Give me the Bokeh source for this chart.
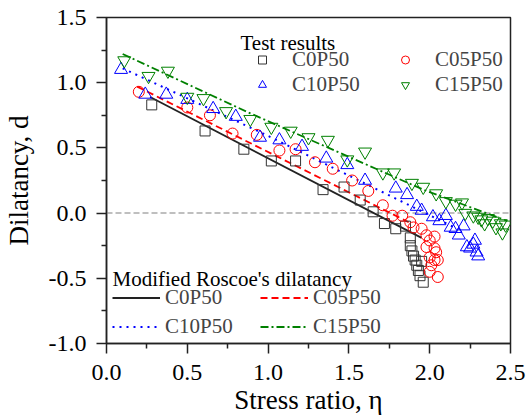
import math
from bokeh.plotting import figure
from bokeh.models import (Legend, LegendItem, Span, Label, FixedTicker, Range1d,
                          PrintfTickFormatter)
from bokeh.embed import file_html
from bokeh.resources import INLINE

FONT = "Liberation Serif"

# ---- test results (stress ratio eta, dilatancy d) ----
c0_x = [0.28, 0.61, 0.85, 1.02, 1.17, 1.34, 1.47, 1.57, 1.65, 1.72, 1.79, 1.85, 1.88, 1.88, 1.89,
        1.90, 1.91, 1.92, 1.93, 1.94, 1.95, 1.96]
c0_y = [0.83, 0.63, 0.49, 0.40, 0.40, 0.18, 0.20, 0.10, 0.01, -0.08, -0.12, -0.10, -0.19, -0.25, -0.29,
        -0.33, -0.36, -0.40, -0.44, -0.48, -0.37, -0.53]

c05_x = [0.20, 0.50, 0.64, 0.78, 0.93, 1.07, 1.17, 1.29, 1.40, 1.52, 1.62, 1.71, 1.77, 1.83, 1.88,
         1.90, 1.95, 1.98, 2.00, 2.03, 1.98, 2.03, 2.00, 2.05, 2.04, 2.03, 2.00, 2.05, 2.01]
c05_y = [0.93, 0.81, 0.75, 0.61, 0.60, 0.48, 0.49, 0.39, 0.34, 0.25, 0.17, 0.06, -0.02, -0.02, -0.07,
         -0.11, -0.12, -0.17, -0.21, -0.18, -0.26, -0.27, -0.34, -0.36, -0.30, -0.36, -0.45, -0.49, -0.40]

c10_x = [0.09, 0.24, 0.37, 0.50, 0.66, 0.80, 0.95, 1.07, 1.21, 1.36, 1.49, 1.60, 1.79, 1.86, 1.92,
         1.95, 2.02, 2.06, 2.10, 2.13, 2.16, 2.18, 2.21, 2.23, 2.25, 2.27, 2.28, 2.29, 2.30]
c10_y = [1.10, 0.91, 0.91, 0.87, 0.80, 0.74, 0.58, 0.56, 0.51, 0.42, 0.37, 0.25, 0.19, 0.14, 0.05,
         0.02, -0.03, -0.06, -0.02, -0.11, -0.12, -0.17, -0.10, -0.26, -0.27, -0.24, -0.21, -0.30, -0.33]

c15_x = [0.11, 0.26, 0.38, 0.50, 0.60, 0.74, 0.89, 1.02, 1.14, 1.25, 1.37, 1.49, 1.60, 1.71, 1.78,
         1.89, 1.96, 2.04, 2.10, 2.16, 2.20, 2.22, 2.27, 2.30, 2.32, 2.34, 2.36, 2.39, 2.41, 2.44,
         2.45, 2.47]
c15_y = [1.17, 1.05, 1.09, 0.89, 0.88, 0.78, 0.72, 0.66, 0.63, 0.58, 0.56, 0.41, 0.47, 0.31, 0.31,
         0.23, 0.20, 0.15, 0.09, 0.07, 0.08, 0.00, -0.02, -0.03, -0.05, -0.08, -0.04, -0.06, -0.11, -0.08,
         -0.15, -0.09]

# ---- modified Roscoe's dilatancy curves ----
m0_x = [0.27, 1.95]
m0_y = [0.89, -0.19]
m05_x = [0.19, 1.87]
m05_y = [0.97, -0.07]
m10_x = [0.10, 0.97, 2.17]
m10_y = [1.11, 0.61, -0.12]
m15_x = [0.10, 0.89, 1.96, 2.48]
m15_y = [1.22, 0.765, 0.18, -0.06]

series_names = ["C0P50", "C05P50", "C10P50", "C15P50"]
x_ticks = [0.0, 0.5, 1.0, 1.5, 2.0, 2.5]
y_ticks = [-1.0, -0.5, 0.0, 0.5, 1.0, 1.5]

BLACK = "#222222"
RED = "#ff0000"
BLUE = "#0000ff"
GREEN = "#008000"

p = figure(width=527, height=417, x_range=Range1d(0, 2.5), y_range=Range1d(-1.0, 1.5),
           output_backend="svg", toolbar_location=None,
           min_border_left=106, min_border_right=17, min_border_top=17, min_border_bottom=74)
p.xgrid.visible = False
p.ygrid.visible = False
p.outline_line_color = BLACK
p.outline_line_width = 1.5
p.background_fill_color = "white"
p.border_fill_color = "white"

p.xaxis.ticker = FixedTicker(ticks=x_ticks, minor_ticks=[0.25, 0.75, 1.25, 1.75, 2.25])
p.yaxis.ticker = FixedTicker(ticks=y_ticks, minor_ticks=[-0.75, -0.25, 0.25, 0.75, 1.25])
p.xaxis.formatter = PrintfTickFormatter(format="%.1f")
p.yaxis.formatter = PrintfTickFormatter(format="%.1f")

p.axis.axis_line_color = BLACK
p.axis.axis_line_width = 1.5
p.axis.major_tick_line_color = BLACK
p.axis.major_tick_line_width = 1.5
p.axis.minor_tick_line_color = BLACK
p.axis.minor_tick_line_width = 1.5
p.axis.major_tick_in = 0
p.axis.major_tick_out = 10
p.axis.minor_tick_in = 0
p.axis.minor_tick_out = 5
p.axis.major_label_text_font = FONT
p.axis.major_label_text_font_size = "24px"
p.axis.major_label_text_color = "black"
p.axis.axis_label_text_font = FONT
p.axis.axis_label_text_font_size = "27px"
p.axis.axis_label_text_font_style = "normal"
p.axis.axis_label_text_color = "black"
p.xaxis.major_label_standoff = 11
p.yaxis.major_label_standoff = 10
p.xaxis.axis_label = "Stress ratio, \u03b7"
p.yaxis.axis_label = "Dilatancy, d"
p.xaxis.axis_label_standoff = 2
p.yaxis.axis_label_standoff = 12

zero = Span(location=0, dimension="width", line_color="#aaaaaa", line_dash="6 3",
            line_width=1.5, level="underlay")
p.add_layout(zero)

l0 = p.line(m0_x, m0_y, line_color=BLACK, line_width=1.8)
l05 = p.line(m05_x, m05_y, line_color=RED, line_width=1.8, line_dash="7 4")
l10 = p.line(m10_x, m10_y, line_color=BLUE, line_width=2, line_dash="2 5")
l15 = p.line(m15_x, m15_y, line_color=GREEN, line_width=1.8, line_dash="8 3 2 3")

s0 = p.scatter(c0_x, c0_y, marker="square", size=10, fill_color=None, line_color="#333333", line_width=1)
s05 = p.scatter(c05_x, c05_y, marker="circle", size=11, fill_color=None, line_color=RED, line_width=1)
s10 = p.scatter(c10_x, c10_y, marker="triangle", size=13, fill_color=None, line_color=BLUE, line_width=1)
s15 = p.scatter(c15_x, c15_y, marker="inverted_triangle", size=13, fill_color=None, line_color=GREEN, line_width=1)

leg1 = Legend(items=[LegendItem(label=series_names[0], renderers=[s0]),
                     LegendItem(label=series_names[1], renderers=[s05]),
                     LegendItem(label=series_names[2], renderers=[s10]),
                     LegendItem(label=series_names[3], renderers=[s15])],
              orientation="horizontal", ncols=2, location=(146, 246),
              label_text_font=FONT, label_text_font_size="21px",
              border_line_color=None, background_fill_alpha=0, padding=0, margin=0, spacing=0,
              glyph_width=20, glyph_height=25, label_height=25, label_standoff=20, label_width=103)
leg2 = Legend(items=[LegendItem(label=series_names[0], renderers=[l0]),
                     LegendItem(label=series_names[1], renderers=[l05]),
                     LegendItem(label=series_names[2], renderers=[l10]),
                     LegendItem(label=series_names[3], renderers=[l15])],
              orientation="horizontal", ncols=2, location=(6, 2),
              label_text_font=FONT, label_text_font_size="21px",
              border_line_color=None, background_fill_alpha=0, padding=0, margin=0, spacing=0,
              glyph_width=48, glyph_height=29, label_height=29, label_standoff=5, label_width=95)
p.add_layout(leg1)
p.add_layout(leg2)

def lab(x, y, text, size, **kw):
    p.add_layout(Label(x=x, y=y, text=text, text_font=FONT, text_font_size=size,
                       text_color="black", **kw))

lab(0.829, 1.308, "Test results", "21px", text_baseline="alphabetic", text_align="left")
lab(0.037, -0.509, "Modified Roscoe's dilatancy", "21px", text_baseline="alphabetic", text_align="left")

open("out.html", "w").write(file_html(p, INLINE))
